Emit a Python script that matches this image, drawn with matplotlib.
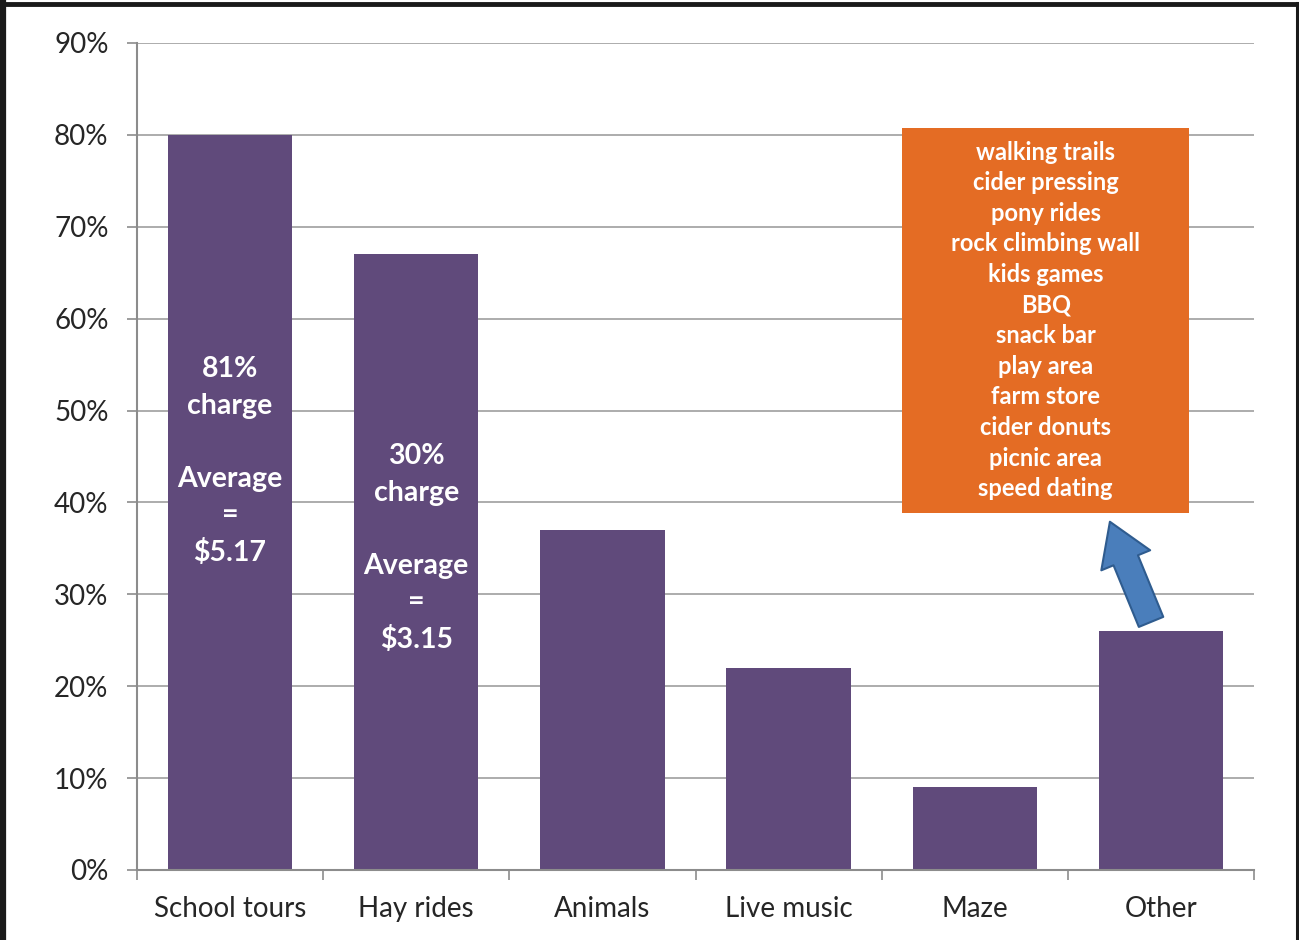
import matplotlib.pyplot as plt
from matplotlib.patches import Rectangle
from matplotlib.lines import Line2D
from matplotlib.ticker import FuncFormatter, FixedLocator

categories = ['School tours', 'Hay rides', 'Animals', 'Live music', 'Maze', 'Other']
values = [80, 67, 37, 22, 9, 26]

bar_notes = {0: '81%\ncharge\n\nAverage\n=\n$5.17',
             1: '30%\ncharge\n\nAverage\n=\n$3.15'}
note_y = {0: 44.5, 1: 35.0}

other_items = ['walking trails', 'cider pressing', 'pony rides', 'rock climbing wall',
               'kids games', 'BBQ', 'snack bar', 'play area', 'farm store',
               'cider donuts', 'picnic area', 'speed dating']

purple = '#604A7B'
orange = '#E46C24'
grid_col = '#A6A6A6'
text_col = '#262626'
font = 'Lato'


def pct_format(x, pos):
    return '{:.0f}%'.format(x)


fig = plt.figure(figsize=(12.99, 9.40), dpi=100)
ax = fig.add_axes([137 / 1299, 1 - 870 / 940, 1117 / 1299, 827 / 940])

x = range(len(categories))
ax.bar(x, values, width=0.667, color=purple, zorder=2)

ax.set_xlim(-0.5, len(categories) - 0.5)
ax.set_ylim(0, 90)
ax.set_yticks(range(0, 91, 10))
ax.yaxis.set_major_formatter(FuncFormatter(pct_format))
ax.set_xticks(list(x))
ax.set_xticklabels(categories)
ax.xaxis.set_minor_locator(FixedLocator([i - 0.5 for i in range(len(categories) + 1)]))

ax.grid(axis='y', color=grid_col, linewidth=1.3, zorder=0)
ax.set_axisbelow(True)
for s in ['top', 'right']:
    ax.spines[s].set_visible(False)
for s in ['left', 'bottom']:
    ax.spines[s].set_color('#8C8C8C')
    ax.spines[s].set_linewidth(1.5)

ax.tick_params(axis='y', length=7, width=1.2, color='#8C8C8C', pad=13.5,
               labelsize=20, labelcolor=text_col)
ax.tick_params(axis='x', which='major', length=0, pad=19,
               labelsize=20, labelcolor=text_col)
ax.tick_params(axis='x', which='minor', length=7, width=1.2, color='#8C8C8C')
for lab in ax.get_xticklabels() + ax.get_yticklabels():
    lab.set_family(font)

# notes inside the first two bars
for i, txt in bar_notes.items():
    ax.text(i, note_y[i], txt, ha='center', va='center', color='white',
            fontsize=20.5, fontweight='bold', family=font, linespacing=1.5, zorder=3)

# orange box listing the "Other" activities
ax.add_patch(Rectangle((0.685, 0.432), 0.257, 0.465, transform=ax.transAxes,
                       facecolor=orange, edgecolor='none', zorder=4))
ax.text(0.8135, 0.6645, '\n'.join(other_items), transform=ax.transAxes,
        ha='center', va='center', color='white', fontsize=17,
        fontweight='bold', family=font, linespacing=1.40, zorder=5)

# blue arrow from the "Other" bar up to the box
ax.annotate('', xy=(4.726, 37.9), xytext=(4.947, 27.0),
            arrowprops=dict(arrowstyle='simple,head_width=38,head_length=30,tail_width=19',
                            mutation_scale=1, facecolor='#4A7EBB', edgecolor='#2F5C8F',
                            linewidth=1.5, shrinkA=0, shrinkB=0),
            zorder=6)

# black frame around the picture
fig.add_artist(Line2D([3 / 1299, 3 / 1299], [0, 1 - 3 / 940], color='#1A1A1A', linewidth=4.5))
fig.add_artist(Line2D([0, 1], [1 - 4 / 940, 1 - 4 / 940], color='#1A1A1A', linewidth=3.5))
fig.add_artist(Line2D([1297 / 1299, 1297 / 1299], [0, 1 - 3 / 940], color='#1A1A1A', linewidth=2.2))

fig.savefig('out.png', dpi=100)
